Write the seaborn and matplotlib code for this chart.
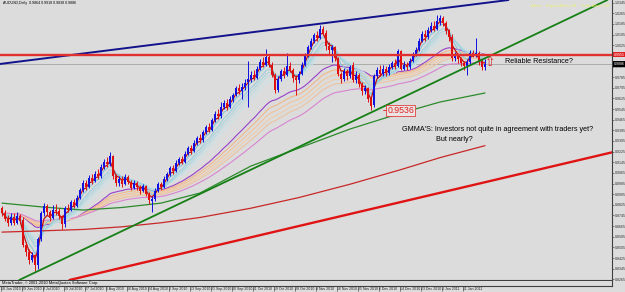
import numpy as np
import pandas as pd
import matplotlib
matplotlib.use("Agg")
import matplotlib.pyplot as plt
import matplotlib.transforms as mtransforms
import seaborn as sns

sns.set_style("white")
plt.rcParams['font.family'] = ['Liberation Sans', 'DejaVu Sans']

# ---------------- data (AUDUSD daily) ----------------
opens = [0.8800,0.8765,0.8720,0.8690,0.8735,0.8690,0.8740,0.8710,0.8520,0.8470,
         0.8410,0.8445,0.8375,0.8565,0.8760,0.8815,0.8770,0.8725,0.8790,0.8780,
         0.8740,0.8680,0.8800,0.8790,0.8845,0.8820,0.8880,0.8940,0.8990,0.8960,
         0.9030,0.9005,0.9060,0.9040,0.9110,0.9150,0.9130,0.9190,0.9040,0.8990,
         0.9020,0.8985,0.9035,0.9000,0.8955,0.8990,0.8960,0.8930,0.8965,0.8910,
         0.8855,0.8870,0.8930,0.8980,0.8960,0.9020,0.9060,0.9100,0.9080,0.9140,
         0.9170,0.9150,0.9210,0.9250,0.9230,0.9290,0.9330,0.9310,0.9370,0.9410,
         0.9390,0.9460,0.9510,0.9490,0.9560,0.9590,0.9560,0.9620,0.9650,0.9700,
         0.9680,0.9710,0.9750,0.9770,0.9800,0.9780,0.9850,0.9900,0.9880,0.9935,
         0.9880,0.9800,0.9690,0.9770,0.9830,0.9800,0.9870,0.9840,0.9780,0.9760,
         0.9810,0.9880,0.9950,1.0010,1.0060,1.0100,1.0080,1.0150,1.0120,1.0020,
         0.9990,1.0010,0.9930,0.9810,0.9770,0.9830,0.9790,0.9880,0.9760,0.9800,
         0.9730,0.9680,0.9700,0.9620,0.9575,0.9790,0.9840,0.9810,0.9850,0.9815,
         0.9860,0.9890,0.9870,0.9980,0.9850,0.9880,0.9860,0.9910,0.9960,0.9990,
         1.0060,1.0110,1.0085,1.0140,1.0170,1.0150,1.0210,1.0230,1.0190,1.0130,
         1.0090,0.9930,0.9950,0.9920,0.9895,0.9870,0.9900,0.9970,0.9955,0.9965,
         0.9900,0.9864]
highs = [0.8820,0.8790,0.8745,0.8760,0.8760,0.8770,0.8755,0.8735,0.8545,0.8490,
         0.8470,0.8455,0.8585,0.8780,0.8840,0.8830,0.8790,0.8825,0.8835,0.8800,
         0.8750,0.8815,0.8830,0.8865,0.8870,0.8900,0.8955,0.9012,0.9015,0.9050,
         0.9060,0.9080,0.9095,0.9135,0.9170,0.9185,0.9225,0.9200,0.9060,0.9045,
         0.9040,0.9060,0.9050,0.9015,0.9010,0.9005,0.8975,0.8985,0.8975,0.8920,
         0.8895,0.8950,0.8995,0.9000,0.9040,0.9075,0.9120,0.9125,0.9160,0.9185,
         0.9195,0.9230,0.9265,0.9275,0.9310,0.9345,0.9355,0.9385,0.9425,0.9440,
         0.9480,0.9530,0.9545,0.9600,0.9610,0.9620,0.9640,0.9665,0.9720,0.9730,
         0.9740,0.9770,0.9910,0.9830,0.9840,0.9870,0.9920,0.9940,0.9995,0.9960,
         0.9900,0.9815,0.9790,0.9850,0.9865,0.9970,0.9900,0.9855,0.9800,0.9830,
         0.9900,0.9970,1.0030,1.0080,1.0120,1.0135,1.0177,1.0170,1.0140,1.0050,
         1.0030,1.0020,0.9940,0.9825,0.9855,0.9845,0.9880,0.9900,0.9830,0.9815,
         0.9750,0.9725,0.9710,0.9640,0.9810,0.9865,0.9880,0.9875,0.9870,0.9885,
         0.9910,0.9920,1.0000,0.9990,0.9905,0.9900,0.9930,0.9975,1.0010,1.0080,
         1.0130,1.0140,1.0165,1.0200,1.0205,1.0252,1.0250,1.0245,1.0210,1.0150,
         1.0110,0.9975,0.9970,0.9940,0.9910,0.9920,0.9990,0.9990,1.0080,0.9980,
         0.9920,0.9918]
lows = [0.8740,0.8700,0.8665,0.8670,0.8675,0.8680,0.8680,0.8505,0.8440,0.8380,
        0.8395,0.8330,0.8345,0.8550,0.8740,0.8745,0.8700,0.8715,0.8750,0.8720,
        0.8640,0.8660,0.8770,0.8780,0.8800,0.8810,0.8870,0.8925,0.8940,0.8950,
        0.8985,0.8995,0.9020,0.9030,0.9095,0.9110,0.9120,0.9020,0.8965,0.8970,
        0.8960,0.8975,0.8980,0.8940,0.8945,0.8935,0.8905,0.8920,0.8890,0.8830,
        0.8770,0.8855,0.8920,0.8940,0.8950,0.9005,0.9045,0.9060,0.9070,0.9125,
        0.9130,0.9140,0.9200,0.9210,0.9220,0.9275,0.9290,0.9300,0.9355,0.9370,
        0.9380,0.9450,0.9470,0.9480,0.9545,0.9540,0.9550,0.9600,0.9640,0.9655,
        0.9620,0.9690,0.9560,0.9750,0.9760,0.9770,0.9835,0.9860,0.9870,0.9860,
        0.9785,0.9665,0.9675,0.9755,0.9780,0.9790,0.9820,0.9750,0.9650,0.9740,
        0.9800,0.9870,0.9935,0.9995,1.0040,1.0060,1.0070,1.0100,0.9990,0.9960,
        0.9900,0.9910,0.9790,0.9740,0.9755,0.9760,0.9775,0.9745,0.9740,0.9710,
        0.9650,0.9655,0.9600,0.9536,0.9560,0.9775,0.9795,0.9790,0.9790,0.9800,
        0.9845,0.9850,0.9860,0.9835,0.9835,0.9840,0.9850,0.9900,0.9945,0.9980,
        1.0050,1.0060,1.0075,1.0125,1.0130,1.0140,1.0180,1.0170,1.0110,1.0060,
        0.9910,0.9905,0.9895,0.9870,0.9840,0.9800,0.9885,0.9935,0.9940,0.9880,
        0.9840,0.9838]
closes = [0.8765,0.8720,0.8690,0.8735,0.8690,0.8740,0.8705,0.8520,0.8470,0.8410,
          0.8445,0.8370,0.8565,0.8760,0.8815,0.8770,0.8725,0.8790,0.8780,0.8740,
          0.8680,0.8800,0.8790,0.8845,0.8820,0.8880,0.8940,0.8990,0.8960,0.9030,
          0.9005,0.9060,0.9040,0.9110,0.9150,0.9130,0.9190,0.9040,0.8990,0.9020,
          0.8985,0.9035,0.9000,0.8955,0.8990,0.8960,0.8930,0.8965,0.8910,0.8860,
          0.8870,0.8930,0.8980,0.8960,0.9020,0.9060,0.9100,0.9080,0.9140,0.9170,
          0.9150,0.9210,0.9250,0.9230,0.9290,0.9330,0.9310,0.9370,0.9410,0.9390,
          0.9460,0.9510,0.9490,0.9560,0.9590,0.9560,0.9620,0.9650,0.9700,0.9680,
          0.9710,0.9740,0.9770,0.9800,0.9780,0.9850,0.9900,0.9880,0.9935,0.9880,
          0.9800,0.9690,0.9770,0.9830,0.9800,0.9870,0.9840,0.9780,0.9760,0.9810,
          0.9880,0.9950,1.0010,1.0060,1.0100,1.0080,1.0150,1.0120,1.0020,0.9990,
          1.0010,0.9930,0.9810,0.9770,0.9830,0.9790,0.9860,0.9760,0.9800,0.9730,
          0.9680,0.9700,0.9620,0.9570,0.9790,0.9840,0.9810,0.9850,0.9815,0.9860,
          0.9890,0.9870,0.9980,0.9850,0.9880,0.9860,0.9910,0.9960,0.9990,1.0060,
          1.0110,1.0085,1.0140,1.0170,1.0150,1.0210,1.0230,1.0190,1.0130,1.0090,
          0.9930,0.9950,0.9920,0.9895,0.9870,0.9900,0.9970,0.9955,0.9965,0.9900,
          0.9864,0.9886]

# long moving averages (read at a few bars)
ma_knot_bars = [0, 14, 27, 40, 53, 66, 83, 99, 116, 133, 146, 161]
green_ma = [0.8838, 0.8808, 0.8786, 0.8805, 0.8838, 0.8914, 0.9117, 0.9252,
            0.9395, 0.9515, 0.9598, 0.9666]
red_ma = [0.8620, 0.8630, 0.8640, 0.8660, 0.8690, 0.8730, 0.8800, 0.8880,
          0.8980, 0.9090, 0.9180, 0.9270]

gmma_short = [3, 5, 8, 10, 12, 15]
gmma_long = [30, 35, 40, 45, 50, 60]

# hand-drawn objects: (bar, price) anchors
channel_top = [(0, 0.9886), (160, 1.0340)]
support_green = [(5, 0.8252), (200, 1.0346)]
support_red = [(21, 0.8252), (203, 0.9218)]
resistance_level = 0.9955
bid_price = 0.9886
low_label_price = 0.9536

price_ticks = [1.0345, 1.0265, 1.0185, 1.0105, 1.0025, 0.9945, 0.9865, 0.9785,
               0.9705, 0.9625, 0.9545, 0.9465, 0.9385, 0.9305, 0.9225, 0.9145,
               0.9065, 0.8985, 0.8905, 0.8825, 0.8745, 0.8665, 0.8585, 0.8505,
               0.8425, 0.8345, 0.8265]
hidden_tick = 0.9945   # covered by the resistance price box
date_labels = ["18 Jun 2010", "29 Jun 2010", "8 Jul 2010", "19 Jul 2010", "27 Jul 2010",
               "5 Aug 2010", "16 Aug 2010", "24 Aug 2010", "2 Sep 2010", "13 Sep 2010",
               "21 Sep 2010", "30 Sep 2010", "11 Oct 2010", "19 Oct 2010", "28 Oct 2010",
               "8 Nov 2010", "16 Nov 2010", "25 Nov 2010", "6 Dec 2010", "14 Dec 2010",
               "23 Dec 2010", "3 Jan 2011", "11 Jan 2011"]
date_label_bars = [7 * k for k in range(len(date_labels))]

# ---------------- figure ----------------
BG = '#dcdcdc'
W, H = 625, 292
fig = plt.figure(figsize=(W / 100, H / 100), dpi=100)
fig.patch.set_facecolor(BG)
ax = fig.add_axes([0, 12 / H, 612 / W, 280 / H])
ax.set_facecolor(BG)

n = len(closes)
df = pd.DataFrame({'bar': np.arange(n), 'open': opens, 'high': highs,
                   'low': lows, 'close': closes})

# GMMA (exponential averages of the closes)
short_cols = ['#b81414', '#86c8d8', '#9ccfdc', '#acd6e0', '#bcdde4', '#c8e2e8']
long_cols = ['#9a40c8', '#f0b888', '#f2c49a', '#f0ccaa', '#ecc2a0', '#d884d0']
for p, c in zip(gmma_long, long_cols):
    sns.lineplot(x=df['bar'], y=df['close'].ewm(span=p, adjust=False).mean(),
                 ax=ax, color=c, lw=0.8, zorder=2)
for p, c in zip(gmma_short[::-1], short_cols[::-1]):
    sns.lineplot(x=df['bar'], y=df['close'].ewm(span=p, adjust=False).mean(),
                 ax=ax, color=c, lw=0.8 if p > 3 else 0.9, zorder=2)

sns.lineplot(x=ma_knot_bars, y=green_ma, ax=ax, color='#2c8a2c', lw=0.9, zorder=2)
sns.lineplot(x=ma_knot_bars, y=red_ma, ax=ax, color='#c82828', lw=0.9, zorder=2)

# candles
up = df['close'] >= df['open']
cols = np.where(up, '#1010e0', '#e01010')
ax.vlines(df['bar'], df['low'], df['high'], colors=cols, lw=0.7, zorder=3)
body_lo = np.minimum(df['open'], df['close'])
body_h = np.maximum(np.abs(df['close'] - df['open']), 0.00025)
ax.bar(df['bar'], body_h, bottom=body_lo, width=0.66, color=cols, lw=0, zorder=3)

# trend lines and levels
ax.axline(channel_top[0], channel_top[1], color='#12128c', lw=1.4, zorder=4)
ax.axline(support_green[0], support_green[1], color='#168016', lw=1.3, zorder=4)
ax.axline(support_red[0], support_red[1], color='#e01414', lw=1.7, zorder=4)
ax.axhline(resistance_level, color='#e03030', lw=1.7, zorder=4)
ax.axhline(bid_price, color='#a4a4a4', lw=0.6, zorder=1)

ax.set_xlim(-0.667, 203.33)
ax.set_ylim(0.8260, 1.0365)
ax.set_xlabel('')
ax.set_ylabel('')

# right price axis
ax.yaxis.tick_right()
ax.set_yticks(price_ticks)
ax.set_yticklabels(["" if v == hidden_tick else f"{v:.4f}" for v in price_ticks])
ax.tick_params(axis='y', labelsize=2.6, length=1.5, width=0.4, pad=0.8,
               colors='#303030', right=True, left=False)
ax.set_xticks([])
for s in ['left', 'top']:
    ax.spines[s].set_visible(False)
ax.spines['right'].set_color('#404040')
ax.spines['right'].set_linewidth(0.8)
ax.spines['bottom'].set_color('#404040')
ax.spines['bottom'].set_linewidth(0.8)

# price boxes on the axis
tr_axis = mtransforms.blended_transform_factory(ax.transAxes, ax.transData)
ax.text(1.003, resistance_level, "0.9955", transform=tr_axis, fontsize=2.6,
        color='white', va='center', ha='left', clip_on=False, zorder=10,
        bbox=dict(boxstyle='square,pad=0.25', fc='#e02020', ec='none'))
ax.text(1.003, bid_price, "0.9886", transform=tr_axis, fontsize=2.6,
        color='white', va='center', ha='left', clip_on=False, zorder=10,
        bbox=dict(boxstyle='square,pad=0.25', fc='black', ec='none'))

# annotations
ax.text(167.7, 0.9899, "Reliable Resistance?", fontsize=5.2, color='black',
        va='center', ha='left', zorder=6)
ax.text(162.8, 0.9893, "\u21e7", fontsize=9, color='#e02020', va='center',
        ha='center', family='DejaVu Sans', zorder=6)
ax.plot([127.0, 128.2], [low_label_price, low_label_price], color='#e02020', lw=0.6, zorder=6)
ax.text(128.4, low_label_price, "0.9536", fontsize=6.3, color='#e02020',
        va='center', ha='left', zorder=6,
        bbox=dict(boxstyle='square,pad=0.12', fc='#ece4e4', ec='#e02020', lw=0.5))
ax.text(133.3, 0.9395, "GMMA'S: Investors not quite in agreement with traders yet?",
        fontsize=5.2, color='black', va='center', ha='left', zorder=6)
ax.text(144.7, 0.9320, "But nearly?", fontsize=5.2, color='black',
        va='center', ha='left', zorder=6)
ax.text(0.005, 0.995, "AUDUSD,Daily  0.9864 0.9918 0.9838 0.9886", transform=ax.transAxes,
        fontsize=2.6, color='black', va='top', ha='left', zorder=6)
ax.text(0.995, 0.985, "Alerts    Expert Alerts Off    Trade Alerts Off", transform=ax.transAxes,
        fontsize=3.0, color='#f0f070', va='top', ha='right', zorder=6)

# bottom strip (empty sub-window with copyright)
sub = fig.add_axes([0, 6 / H, 612 / W, 5.5 / H])
sub.set_facecolor(BG)
sub.set_xticks([]); sub.set_yticks([])
for s in ['left', 'top']:
    sub.spines[s].set_visible(False)
for s in ['right', 'bottom']:
    sub.spines[s].set_color('#404040'); sub.spines[s].set_linewidth(0.8)
sub.text(0.003, 0.5, "MetaTrader, \u00a9 2001-2010 MetaQuotes Software Corp.",
         fontsize=2.9, va='center', ha='left', color='black', transform=sub.transAxes)

# date labels
tr_date = mtransforms.blended_transform_factory(ax.transData, fig.transFigure)
for b, lab in zip(date_label_bars, date_labels):
    ax.plot([b - 0.5, b - 0.5], [5.5 / H, 1.5 / H], transform=tr_date, color='#303030',
            lw=0.4, clip_on=False)
    ax.text(b - 0.2, 3.2 / H, lab, transform=tr_date, fontsize=2.5, color='#202020',
            va='center', ha='left', clip_on=False)

fig.savefig("out.png", dpi=100, facecolor=BG)
